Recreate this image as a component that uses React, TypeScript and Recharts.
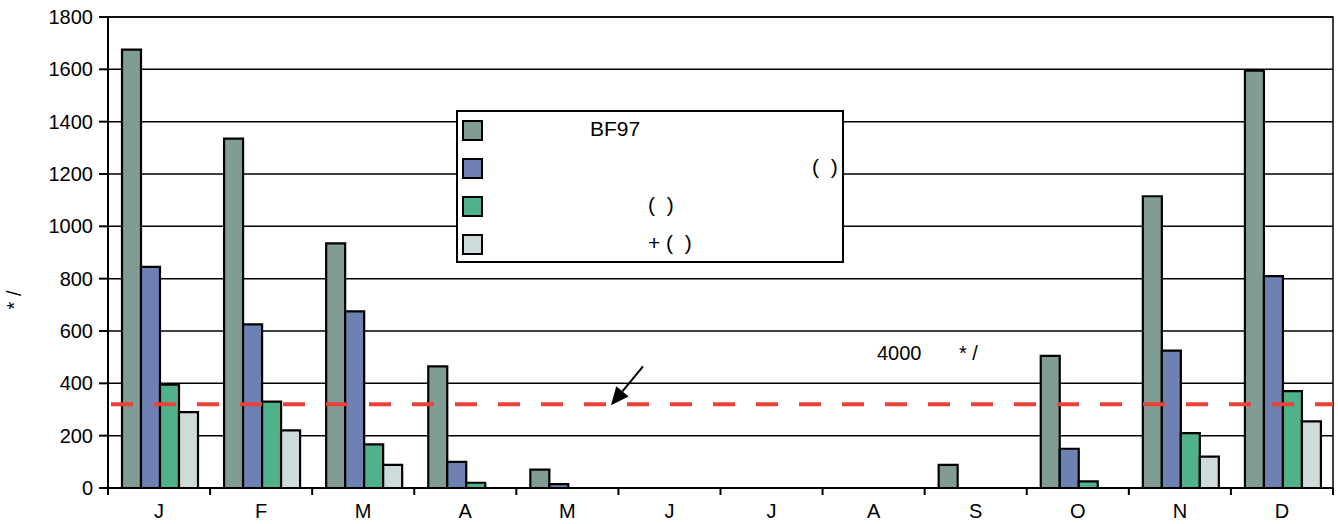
import React from "react";
import {
  BarChart,
  Bar,
  XAxis,
  YAxis,
  CartesianGrid,
  ReferenceLine,
  ReferenceArea,
  Legend,
} from "recharts";

// Monthly values for the four series
const months = ["J", "F", "M", "A", "M", "J", "J", "A", "S", "O", "N", "D"];
const seriesA = [1675, 1335, 935, 465, 70, 0, 0, 0, 88, 505, 1115, 1595];
const seriesB = [845, 625, 675, 100, 15, 0, 0, 0, 0, 150, 525, 810];
const seriesC = [395, 330, 167, 20, 0, 0, 0, 0, 0, 25, 210, 370];
const seriesD = [290, 220, 88, 0, 0, 0, 0, 0, 0, 0, 120, 255];
const seriesNames = ["BF97", "(  )", "(  )", "+ (  )"];
const yTicks = [0, 200, 400, 600, 800, 1000, 1200, 1400, 1600, 1800];
const threshold = 320;
const thresholdNote = ["4000", "* /"];
const yAxisTitle = "* /";

const COLORS = ["#819c95", "#6f80b3", "#50b28a", "#cddbdb"];
const RED = "#e8423b";
const FONT = "'Liberation Sans', Arial, sans-serif";

const W = 1338;
const H = 524;
const M_TOP = 17;
const M_RIGHT = 5;
const Y_AXIS_W = 108;
const X_AXIS_H = 36;
const BAND = (W - Y_AXIS_W - M_RIGHT) / months.length;

const data = months.map((m, i) => ({
  month: m,
  a: seriesA[i],
  b: seriesB[i],
  c: seriesC[i],
  d: seriesD[i],
}));

const keys = ["a", "b", "c", "d"];

// legend label indents inside the box (px)
const labelIndent = [134, 356, 192, 192];

function MonthTick(props: any) {
  const { x, y, payload, index } = props;
  const left = x - BAND / 2;
  return (
    <g>
      <line x1={left} y1={y} x2={left} y2={y + 7} stroke="#000" strokeWidth={2} />
      {index === months.length - 1 && (
        <line x1={x + BAND / 2} y1={y} x2={x + BAND / 2} y2={y + 7} stroke="#000" strokeWidth={2} />
      )}
      <text x={x} y={y + 30} textAnchor="middle" fontSize={20} fontFamily={FONT} fill="#000">
        {payload.value}
      </text>
    </g>
  );
}

function LegendBox(props: any) {
  const payload: any[] = props.payload || [];
  // keep the series order a, b, c, d
  const entries = keys.map((k, i) => {
    const found = payload.find((p: any) => p.dataKey === k);
    return {
      color: found ? found.color : COLORS[i],
      value: found ? found.value : seriesNames[i],
    };
  });
  return (
    <div
      style={{
        width: 388,
        height: 153,
        boxSizing: "border-box",
        border: "2px solid #000",
        background: "#fff",
        position: "relative",
        fontFamily: FONT,
        fontSize: 21,
        color: "#000",
      }}
    >
      {entries.map((entry, i) => (
        <div key={i}>
          <div
            style={{
              position: "absolute",
              left: 4,
              top: 8 + i * 38,
              width: 21,
              height: 21,
              boxSizing: "border-box",
              border: "2px solid #000",
              background: entry.color,
            }}
          />
          <div
            style={{
              position: "absolute",
              left: labelIndent[i] - 2,
              top: 5 + i * 38,
              whiteSpace: "pre",
              lineHeight: "24px",
            }}
          >
            {entry.value}
          </div>
        </div>
      ))}
    </div>
  );
}

function ThresholdNote(props: any) {
  const vb = props.viewBox || {};
  const lx = vb.x;
  const ly = vb.y;
  const tipX = lx + 503;
  const tipY = ly + 1;
  const tailX = tipX + 32;
  const tailY = tipY - 39;
  const dx = tipX - tailX;
  const dy = tipY - tailY;
  const len = Math.sqrt(dx * dx + dy * dy);
  const ux = dx / len;
  const uy = dy / len;
  const bx = tipX - 18 * ux;
  const by = tipY - 18 * uy;
  const px = -uy * 8;
  const py = ux * 8;
  return (
    <g>
      <line x1={tailX} y1={tailY} x2={bx} y2={by} stroke="#000" strokeWidth={2} />
      <polygon
        points={`${tipX},${tipY} ${bx + px},${by + py} ${bx - px},${by - py}`}
        fill="#000"
      />
      <text x={lx + 769} y={ly - 44} fontSize={20} fontFamily={FONT} fill="#000">
        {thresholdNote[0]}
      </text>
      <text x={lx + 851} y={ly - 44} fontSize={20} fontFamily={FONT} fill="#000" style={{ whiteSpace: "pre" }}>
        {thresholdNote[1]}
      </text>
    </g>
  );
}

function YTitle() {
  return (
    <text
      x={0}
      y={0}
      transform="translate(21, 300) rotate(-90)"
      textAnchor="middle"
      fontSize={20}
      fontFamily={FONT}
      fill="#000"
      style={{ whiteSpace: "pre" }}
    >
      {yAxisTitle}
    </text>
  );
}

export default function App() {
  return (
    <div style={{ position: "absolute", left: 0, top: 0, width: W, height: H, background: "#fff" }}>
      <BarChart
        width={W}
        height={H}
        data={data}
        margin={{ top: M_TOP, right: M_RIGHT, bottom: 0, left: 0 }}
        barCategoryGap={14}
        barGap={0}
      >
        <CartesianGrid vertical={false} stroke="#000" strokeWidth={1.5} />
        <YAxis
          width={Y_AXIS_W}
          domain={[0, 1800]}
          ticks={yTicks}
          interval={0}
          tickSize={9}
          tickMargin={6}
          axisLine={{ stroke: "#000", strokeWidth: 2 }}
          tickLine={{ stroke: "#000", strokeWidth: 2 }}
          tick={{ fill: "#000", fontSize: 20, fontFamily: FONT }}
          label={<YTitle />}
        />
        <XAxis
          dataKey="month"
          height={X_AXIS_H}
          interval={0}
          tickSize={0}
          tickMargin={0}
          tickLine={false}
          axisLine={{ stroke: "#000", strokeWidth: 2 }}
          tick={<MonthTick />}
        />
        <ReferenceArea y1={0} y2={1800} fill="none" stroke="#000" strokeWidth={1.5} ifOverflow="visible" />
        {keys.map((k, i) => (
          <Bar
            key={k}
            dataKey={k}
            name={seriesNames[i]}
            fill={COLORS[i]}
            stroke="#000"
            strokeWidth={2.2}
            isAnimationActive={false}
          />
        ))}
        <ReferenceLine
          y={threshold}
          stroke={RED}
          strokeWidth={4}
          strokeDasharray="22 21"
          strokeDashoffset={-3}
          label={(p: any) => <ThresholdNote {...p} />}
        />
        <Legend
          layout="vertical"
          align="center"
          verticalAlign="middle"
          content={<LegendBox />}
          wrapperStyle={{ position: "absolute", left: 456, top: 110, width: 388, height: 153 }}
        />
      </BarChart>
    </div>
  );
}
